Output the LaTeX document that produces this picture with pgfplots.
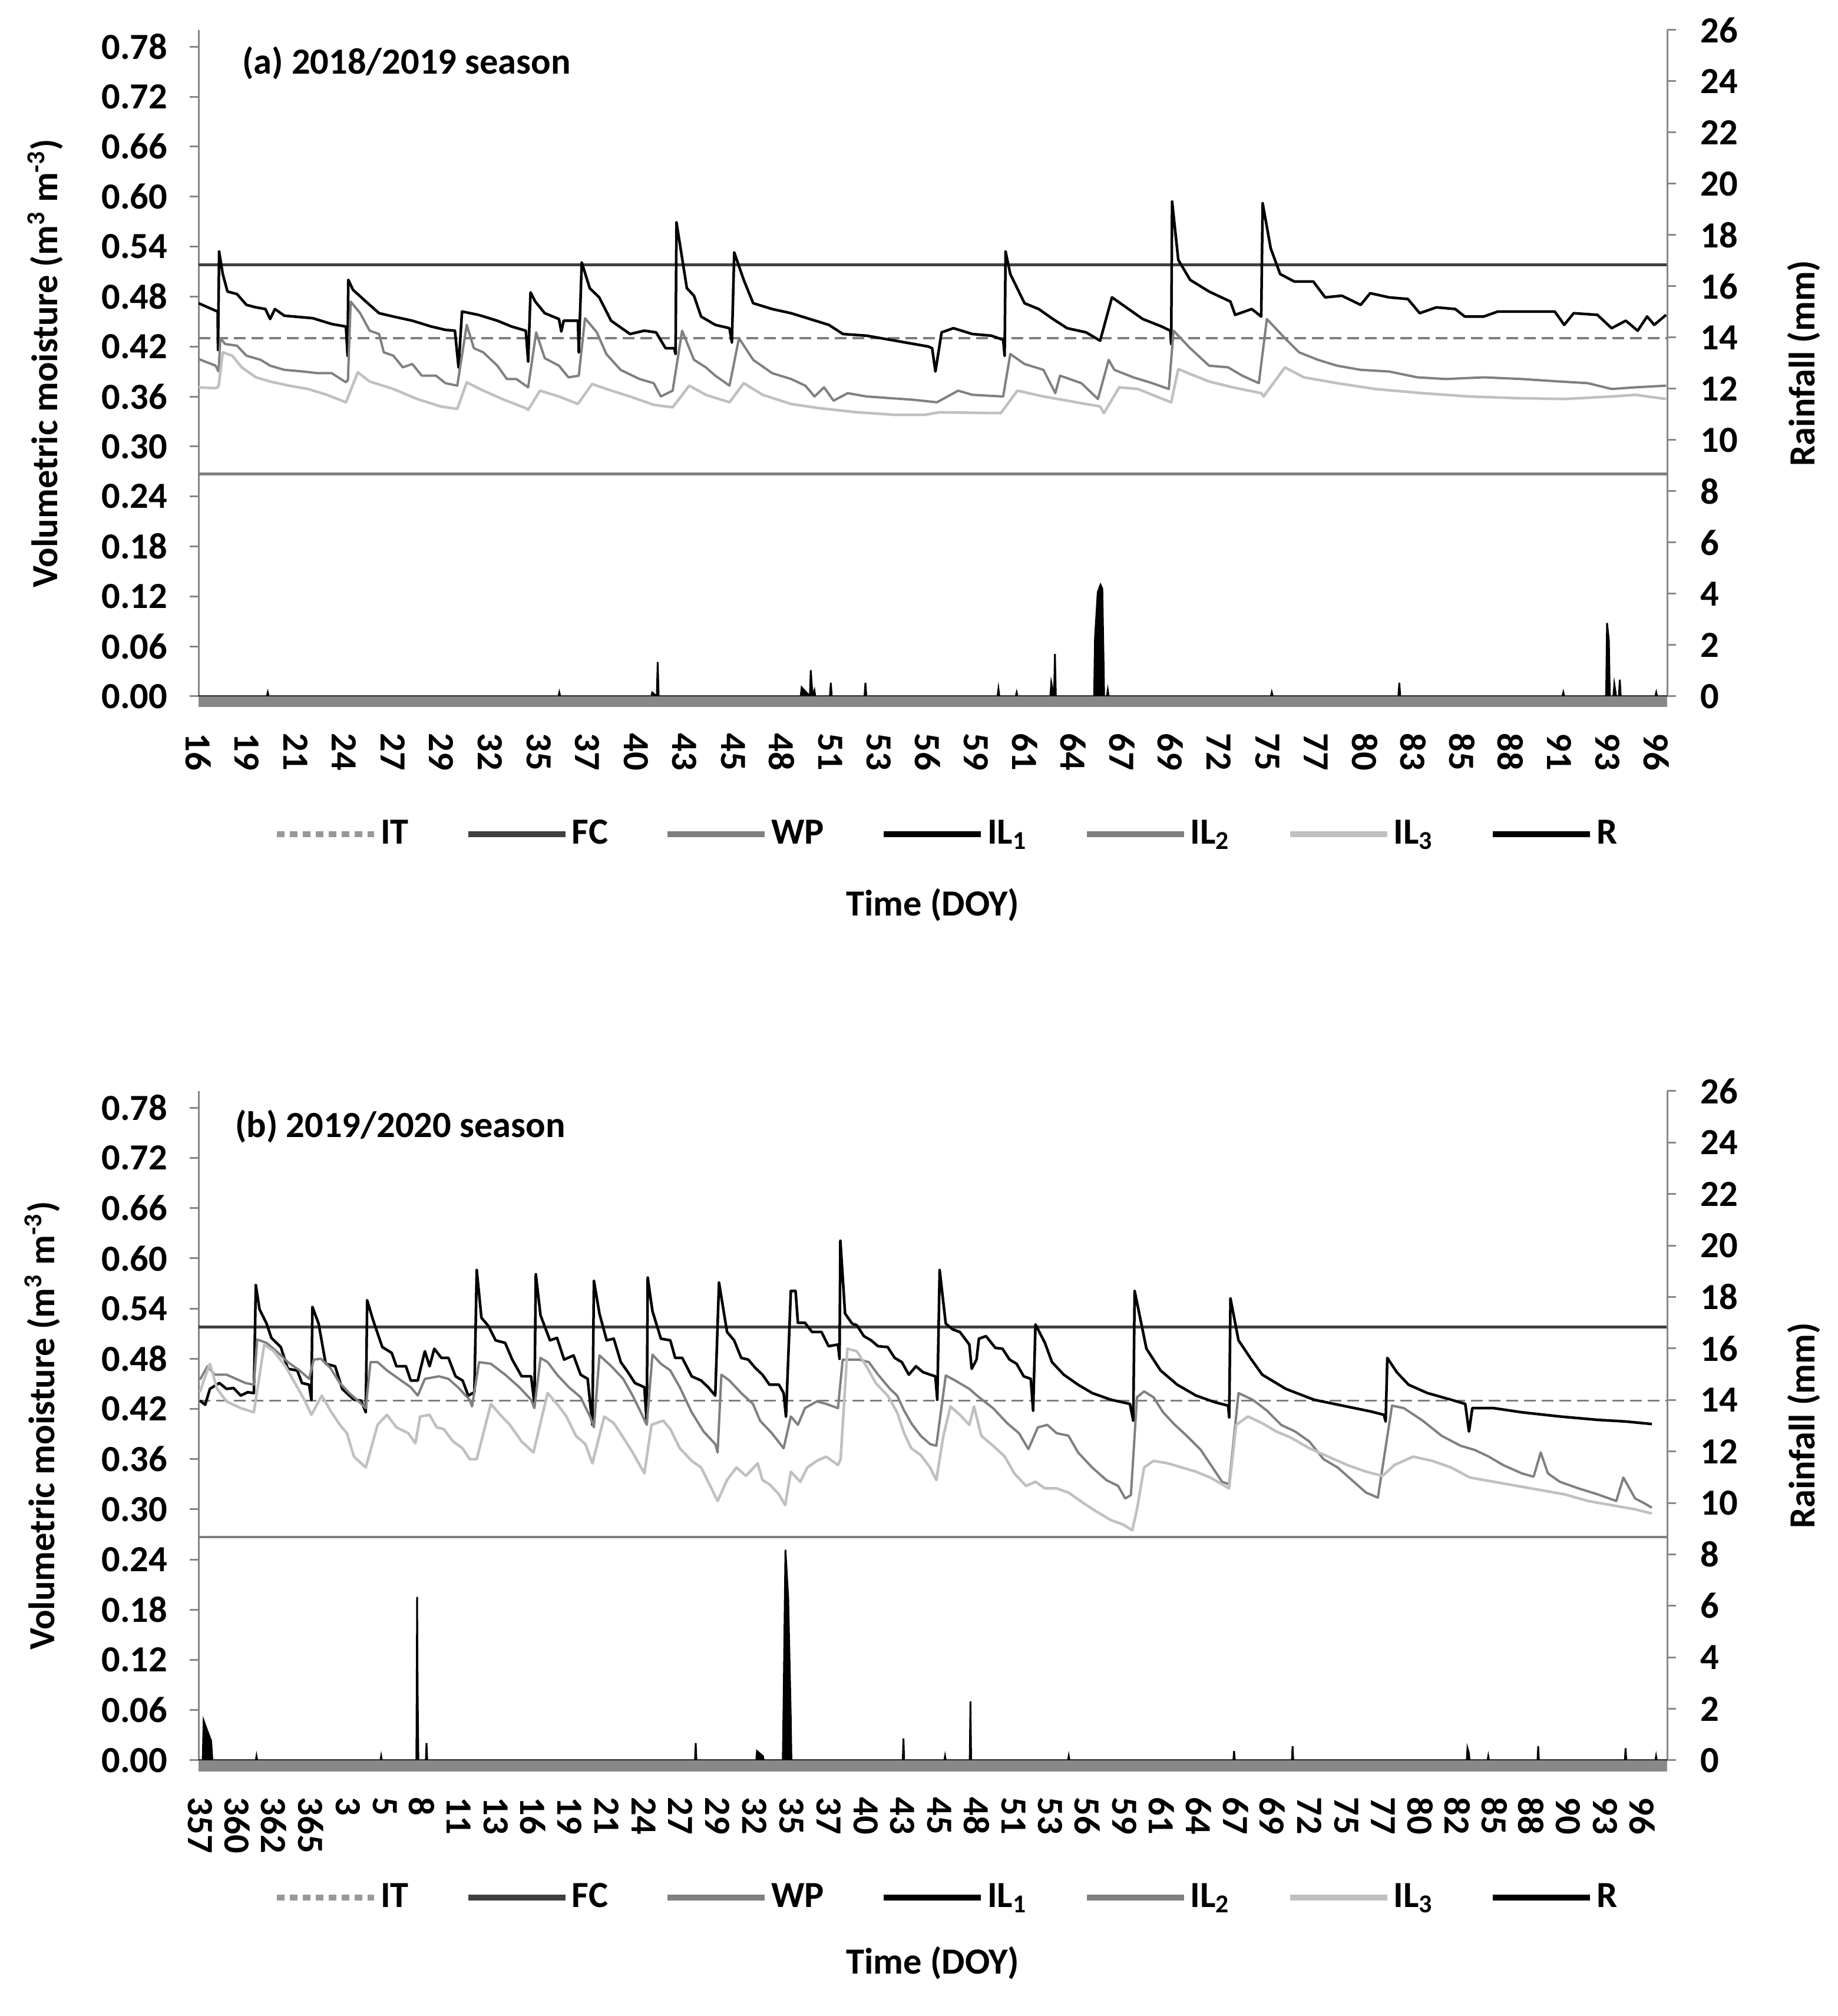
\documentclass[border=0pt]{standalone}
\usepackage{fontspec}
\setmainfont{Carlito}
\usepackage{pgfplots}
\usepackage{pgfplotstable}
\pgfplotsset{compat=1.18}

\definecolor{axgray}{HTML}{868686}
\definecolor{fcgray}{HTML}{404040}
\definecolor{wpgray}{HTML}{808080}
\definecolor{itgray}{HTML}{7F7F7F}
\definecolor{colILtwo}{HTML}{808080}
\definecolor{colILthree}{HTML}{C0C0C0}
\definecolor{bandgray}{HTML}{888888}
\newcommand{\fs}{\bfseries\fontsize{12.5}{15}\selectfont}

\pgfplotsset{
  moist/.style={
    scale only axis, width=498.6pt,
    ymin=0, ymax=0.8,
    axis lines*=left, axis line style={-},
    x axis line style={draw=none},
    y axis line style={axgray, line width=0.6pt},
    ytick={0,0.06,0.12,0.18,0.24,0.30,0.36,0.42,0.48,0.54,0.60,0.66,0.72,0.78},
    ytick style={axgray, line width=0.6pt},
    xtick style={draw=none},
    tick align=outside, major tick length=3pt,
    tick label style={font=\fs},
    /pgf/number format/assume math mode=true,
    yticklabel style={/pgf/number format/fixed, /pgf/number format/fixed zerofill,
      /pgf/number format/precision=2, xshift=-4pt},
    xticklabel style={yshift=-6pt, rotate=-90, anchor=west},
    legend image code/.code={\draw[#1] (0pt,0pt) -- (33pt,0pt);},
    legend style={draw=none, fill=none, legend columns=7, font=\fs, anchor=center,
      /tikz/every even column/.append style={column sep=18pt}, nodes={inner sep=1.2pt}},
  },
  rain/.style={
    scale only axis, width=498.6pt,
    ymin=0, ymax=26,
    axis y line*=right, axis line style={-},
    y axis line style={axgray, line width=0.6pt},
    hide x axis,
    ytick={0,2,...,26},
    ytick style={axgray, line width=0.6pt},
    tick align=outside, major tick length=3pt,
    tick label style={font=\fs},
    /pgf/number format/assume math mode=true,
    yticklabel style={xshift=4.8pt},
  },
  lineone/.style={black, line width=0.9pt, line join=round},
  linetwo/.style={colILtwo, line width=0.8pt, line join=round},
  linethree/.style={colILthree, line width=0.9pt, line join=round},
}

% ---------------- (a) 2018/2019 season, x = DOY ----------------
\pgfplotstableread{
x y
16.00 0.472
16.94 0.463
17.05 0.462
17.07 0.416
17.13 0.534
17.33 0.507
17.59 0.486
18.11 0.483
18.63 0.470
19.15 0.467
19.67 0.465
19.93 0.453
20.19 0.465
20.71 0.457
22.27 0.454
23.31 0.447
24.09 0.444
24.18 0.409
24.22 0.500
24.48 0.488
25.39 0.470
25.91 0.460
26.69 0.456
27.73 0.451
28.77 0.444
29.55 0.440
30.07 0.439
30.27 0.395
30.46 0.462
31.36 0.458
32.40 0.451
33.18 0.444
33.96 0.439
34.09 0.402
34.22 0.485
34.48 0.474
35.00 0.460
35.78 0.453
35.91 0.438
36.04 0.451
36.82 0.451
36.87 0.413
37.03 0.521
37.47 0.490
37.99 0.479
38.64 0.451
39.68 0.435
40.46 0.439
41.11 0.437
41.63 0.418
42.10 0.418
42.18 0.411
42.23 0.569
42.80 0.490
43.19 0.481
43.58 0.456
44.36 0.446
45.14 0.442
45.27 0.425
45.40 0.533
45.92 0.500
46.44 0.472
47.48 0.465
48.52 0.460
49.55 0.453
50.59 0.446
51.37 0.435
52.67 0.433
53.97 0.428
55.01 0.424
56.05 0.420
56.26 0.418
56.44 0.390
56.78 0.437
57.43 0.442
58.47 0.435
59.51 0.433
60.16 0.428
60.24 0.409
60.29 0.534
60.55 0.507
61.33 0.472
62.11 0.465
62.89 0.453
63.67 0.442
64.71 0.437
65.48 0.427
66.13 0.479
67.04 0.465
67.82 0.453
68.86 0.444
69.33 0.439
69.38 0.423
69.43 0.594
69.77 0.524
70.42 0.500
71.46 0.486
72.63 0.474
72.89 0.458
73.80 0.465
74.32 0.456
74.40 0.592
74.84 0.538
75.36 0.507
76.14 0.498
77.18 0.498
77.83 0.479
78.74 0.481
79.78 0.470
80.30 0.484
81.34 0.479
82.37 0.477
83.02 0.460
83.93 0.467
84.97 0.465
85.49 0.456
86.53 0.456
87.31 0.462
88.61 0.462
90.43 0.462
90.95 0.446
91.47 0.460
92.77 0.458
93.55 0.442
94.33 0.451
94.98 0.439
95.50 0.456
95.89 0.446
96.54 0.458
}\aILone

\pgfplotstableread{
x y
16.00 0.405
16.94 0.397
17.10 0.390
17.20 0.430
17.46 0.423
18.11 0.421
18.63 0.409
19.41 0.404
19.93 0.397
20.71 0.392
21.75 0.390
22.53 0.388
23.31 0.388
24.09 0.377
24.20 0.380
24.35 0.474
24.87 0.460
25.39 0.439
25.91 0.435
26.17 0.413
26.69 0.409
27.21 0.395
27.73 0.399
28.25 0.385
29.03 0.385
29.55 0.376
30.20 0.373
30.72 0.446
31.11 0.418
31.63 0.413
32.40 0.397
32.92 0.381
33.44 0.381
34.09 0.371
34.53 0.437
35.00 0.406
35.78 0.397
36.30 0.383
36.87 0.385
37.21 0.454
37.86 0.437
38.38 0.411
39.16 0.392
40.20 0.381
40.98 0.376
41.37 0.360
42.02 0.367
42.54 0.439
43.19 0.404
43.84 0.395
44.36 0.385
45.14 0.373
45.66 0.430
46.44 0.404
47.48 0.388
48.52 0.381
49.30 0.373
49.81 0.360
50.33 0.371
50.85 0.355
51.63 0.364
52.67 0.360
53.97 0.358
55.27 0.356
56.52 0.353
57.69 0.367
58.47 0.362
60.16 0.360
60.55 0.411
61.33 0.399
62.37 0.392
63.02 0.364
63.28 0.385
64.45 0.376
65.36 0.357
65.95 0.404
66.26 0.392
67.30 0.383
68.34 0.376
69.25 0.369
69.51 0.439
70.42 0.418
71.46 0.397
72.50 0.395
73.28 0.385
74.19 0.376
74.63 0.453
75.62 0.430
76.40 0.413
77.44 0.404
78.48 0.397
79.78 0.392
81.34 0.390
82.89 0.383
84.45 0.381
86.53 0.383
88.61 0.381
90.69 0.378
92.25 0.376
93.55 0.369
94.85 0.371
96.54 0.373
}\aILtwo

\pgfplotstableread{
x y
16.00 0.371
16.94 0.370
17.10 0.372
17.33 0.413
17.85 0.409
18.37 0.395
19.15 0.383
19.93 0.378
20.97 0.373
22.01 0.369
23.05 0.362
24.09 0.353
24.74 0.389
25.39 0.378
26.69 0.369
28.00 0.357
29.29 0.348
30.20 0.345
30.72 0.377
31.63 0.367
32.66 0.357
33.96 0.346
34.09 0.344
34.74 0.367
35.78 0.360
36.82 0.351
37.60 0.375
38.38 0.369
39.68 0.360
40.98 0.350
42.02 0.347
42.93 0.373
43.84 0.362
45.14 0.353
45.92 0.376
46.96 0.362
48.52 0.351
50.07 0.346
52.15 0.341
54.23 0.338
55.87 0.338
56.65 0.341
60.03 0.340
60.94 0.367
62.37 0.360
63.67 0.355
65.48 0.348
65.69 0.340
66.53 0.371
67.56 0.369
68.34 0.362
69.38 0.353
69.77 0.393
70.42 0.387
71.46 0.378
72.76 0.371
74.32 0.364
74.45 0.360
75.62 0.395
76.66 0.383
78.48 0.376
80.56 0.369
83.15 0.364
85.75 0.360
88.35 0.358
90.95 0.357
93.55 0.360
94.85 0.362
96.54 0.357
}\aILthree

\pgfplotstableread{
x y
16.00 0
19.75 0
19.80 0.15
19.85 0
35.75 0
35.80 0.15
35.85 0
40.85 0
40.90 0.15
41.15 0
41.20 1.34
41.25 0
49.05 0
49.10 0.35
49.55 0
49.60 1.02
49.70 0
49.80 0.23
49.85 0
50.65 0
50.70 0.53
50.75 0
52.55 0
52.60 0.53
52.65 0
59.85 0
59.90 0.29
59.95 0
60.85 0
60.90 0.15
60.95 0
62.75 0
62.80 0.53
62.95 0
63.00 1.65
63.05 0
65.15 0
65.20 2.30
65.35 4.06
65.50 4.35
65.60 4.20
65.70 0
65.85 0
65.90 0.24
65.95 0
74.85 0
74.90 0.15
74.95 0
81.85 0
81.90 0.53
81.95 0
90.85 0
90.90 0.15
90.95 0
93.25 0
93.30 2.86
93.40 2.18
93.45 0
93.65 0
93.70 0.47
93.80 0
93.95 0
94.00 0.65
94.05 0
95.95 0
96.00 0.15
96.05 0
96.60 0
}\aR

% ---------------- (b) 2019/2020 season, x = days after DOY 357 ----------------
\pgfplotstableread{
x y
0.00 0.430
0.38 0.425
0.72 0.444
1.40 0.451
1.92 0.444
2.43 0.445
2.94 0.436
3.45 0.440
3.89 0.439
4.03 0.568
4.30 0.539
4.81 0.522
5.15 0.505
5.83 0.494
6.34 0.468
7.02 0.466
7.36 0.451
7.87 0.449
8.04 0.431
8.11 0.542
8.56 0.522
9.07 0.474
9.75 0.471
10.26 0.444
11.11 0.431
11.62 0.430
11.96 0.416
12.06 0.550
12.47 0.527
13.15 0.494
13.83 0.487
14.17 0.471
14.86 0.471
15.20 0.454
15.71 0.454
15.88 0.466
16.22 0.489
16.56 0.471
16.90 0.492
17.41 0.481
17.92 0.481
18.43 0.459
18.94 0.454
19.35 0.436
19.79 0.440
19.96 0.586
20.30 0.529
20.81 0.519
21.32 0.502
22.01 0.499
22.52 0.479
23.20 0.459
23.88 0.459
24.12 0.426
24.22 0.581
24.56 0.532
25.24 0.502
25.75 0.505
26.26 0.479
26.94 0.484
27.45 0.461
27.96 0.456
28.30 0.401
28.41 0.573
28.81 0.534
29.33 0.502
29.84 0.504
30.35 0.476
30.86 0.464
31.37 0.451
32.05 0.446
32.22 0.403
32.29 0.577
32.63 0.537
33.24 0.504
33.92 0.502
34.27 0.481
34.78 0.481
35.46 0.459
36.14 0.454
36.65 0.446
37.16 0.436
37.43 0.571
38.01 0.512
38.52 0.502
39.03 0.481
39.54 0.479
40.05 0.469
40.56 0.461
41.07 0.449
41.75 0.449
42.09 0.439
42.26 0.411
42.61 0.561
42.95 0.561
43.12 0.523
43.63 0.523
44.14 0.512
44.82 0.512
45.33 0.495
46.01 0.497
46.12 0.480
46.18 0.621
46.52 0.534
47.03 0.522
47.37 0.520
47.88 0.507
48.40 0.502
48.90 0.495
49.59 0.494
50.10 0.481
50.61 0.476
51.12 0.461
51.63 0.471
52.14 0.464
52.65 0.461
53.03 0.459
53.17 0.431
53.34 0.586
53.78 0.522
54.29 0.515
54.80 0.512
55.48 0.497
55.65 0.468
56.00 0.479
56.17 0.504
56.68 0.507
57.36 0.493
57.87 0.492
58.38 0.479
58.89 0.474
59.40 0.459
59.91 0.456
60.08 0.418
60.25 0.521
60.93 0.499
61.44 0.476
62.29 0.461
63.32 0.449
64.34 0.439
65.70 0.431
67.06 0.426
67.30 0.406
67.40 0.561
68.25 0.492
69.27 0.466
70.47 0.449
71.83 0.436
73.19 0.428
74.14 0.424
74.22 0.410
74.31 0.552
74.89 0.502
75.74 0.481
76.60 0.461
78.30 0.444
80.34 0.431
82.38 0.424
84.43 0.417
85.38 0.413
85.50 0.405
85.62 0.481
86.30 0.464
87.15 0.449
88.51 0.439
90.22 0.431
91.24 0.426
91.51 0.393
91.75 0.421
93.28 0.421
95.32 0.416
98.05 0.411
100.77 0.407
102.81 0.405
104.69 0.402
}\bILone

\pgfplotstableread{
x y
0.00 0.455
0.55 0.471
1.06 0.461
1.92 0.461
2.60 0.456
3.28 0.451
3.89 0.449
4.13 0.503
4.81 0.499
5.66 0.487
6.34 0.476
7.19 0.466
7.87 0.456
8.21 0.479
8.73 0.480
9.41 0.469
10.09 0.451
10.77 0.439
11.45 0.429
11.96 0.421
12.30 0.476
12.81 0.476
13.49 0.466
14.51 0.454
15.20 0.446
15.71 0.436
16.22 0.456
17.24 0.459
17.92 0.456
18.60 0.446
19.45 0.431
19.62 0.423
20.13 0.476
20.98 0.474
22.01 0.461
23.03 0.446
23.88 0.431
24.12 0.421
24.56 0.481
25.07 0.476
25.75 0.461
26.60 0.446
27.45 0.434
28.13 0.411
28.41 0.398
28.81 0.484
29.67 0.471
30.52 0.456
31.20 0.436
31.88 0.413
32.22 0.401
32.63 0.485
33.24 0.474
33.92 0.466
34.60 0.446
35.46 0.416
36.32 0.393
37.16 0.378
37.33 0.368
37.60 0.461
38.18 0.454
39.03 0.439
39.88 0.426
40.39 0.406
41.24 0.391
42.09 0.373
42.61 0.411
43.12 0.401
43.63 0.421
44.48 0.429
45.16 0.426
46.01 0.421
46.35 0.479
47.54 0.479
48.23 0.476
48.90 0.461
49.76 0.444
50.27 0.436
50.78 0.418
51.29 0.403
51.97 0.388
52.65 0.378
53.10 0.376
53.78 0.460
54.46 0.454
55.48 0.444
56.17 0.434
57.19 0.421
58.21 0.403
59.06 0.391
59.74 0.372
60.42 0.398
61.10 0.401
61.78 0.391
62.63 0.388
63.32 0.368
64.34 0.350
65.36 0.335
66.21 0.328
66.72 0.313
67.13 0.317
67.57 0.434
68.08 0.441
68.76 0.434
69.45 0.416
70.30 0.401
71.15 0.388
72.17 0.371
73.02 0.350
73.70 0.333
74.21 0.330
74.89 0.439
75.91 0.431
76.94 0.418
77.96 0.401
78.98 0.393
80.00 0.381
81.02 0.360
82.04 0.350
83.06 0.335
84.09 0.320
84.94 0.314
85.96 0.424
86.81 0.421
88.17 0.406
89.53 0.388
90.90 0.376
91.92 0.371
92.94 0.363
93.96 0.353
95.32 0.343
96.17 0.339
96.68 0.368
97.20 0.343
98.05 0.333
99.41 0.325
100.77 0.318
102.13 0.310
102.64 0.338
103.49 0.313
104.18 0.307
104.69 0.302
}\bILtwo

\pgfplotstableread{
x y
0.00 0.440
0.30 0.455
0.72 0.474
1.24 0.444
1.92 0.429
2.94 0.421
3.89 0.416
4.64 0.497
5.32 0.489
6.17 0.471
7.02 0.446
7.53 0.431
8.04 0.413
8.79 0.436
9.41 0.418
10.09 0.401
10.60 0.391
11.11 0.363
11.96 0.350
12.81 0.401
13.49 0.413
14.17 0.398
15.03 0.391
15.54 0.379
15.88 0.411
16.56 0.413
17.07 0.398
17.58 0.396
18.26 0.381
18.94 0.373
19.45 0.360
19.96 0.360
20.98 0.426
21.66 0.413
22.35 0.401
23.20 0.381
24.05 0.368
25.07 0.439
25.75 0.426
26.43 0.411
27.11 0.388
27.79 0.378
28.30 0.355
29.16 0.411
29.84 0.403
30.52 0.386
31.20 0.368
32.05 0.343
32.56 0.401
33.41 0.406
33.92 0.396
34.60 0.373
35.46 0.358
36.14 0.350
36.65 0.333
37.33 0.310
38.01 0.335
38.69 0.350
39.37 0.340
40.22 0.355
40.56 0.335
41.07 0.330
41.75 0.318
42.20 0.305
42.61 0.345
43.29 0.333
43.80 0.350
44.48 0.358
45.16 0.363
46.01 0.353
46.20 0.360
46.69 0.492
47.37 0.489
48.06 0.471
48.73 0.451
49.59 0.436
50.27 0.416
50.78 0.391
51.29 0.373
51.97 0.365
52.65 0.350
53.10 0.335
53.61 0.388
54.12 0.423
54.80 0.413
55.48 0.401
55.82 0.423
56.34 0.388
57.19 0.376
58.04 0.363
58.72 0.343
59.57 0.328
60.25 0.333
60.93 0.325
61.78 0.325
62.63 0.320
63.66 0.308
64.68 0.297
65.70 0.287
66.55 0.282
67.23 0.275
67.57 0.300
68.08 0.350
68.76 0.358
69.79 0.355
70.81 0.350
71.83 0.345
72.85 0.338
73.70 0.330
74.21 0.325
74.72 0.401
75.57 0.411
76.60 0.403
77.62 0.393
78.64 0.386
80.00 0.373
81.36 0.363
82.73 0.353
84.09 0.345
85.28 0.340
86.13 0.353
87.49 0.363
88.85 0.358
90.22 0.350
91.58 0.338
93.28 0.333
94.98 0.328
96.68 0.323
98.39 0.318
100.09 0.310
101.79 0.305
103.49 0.300
104.69 0.295
}\bILthree

\pgfplotstableread{
x y
-0.10 0
0.20 0
0.27 1.54
0.40 1.34
0.81 0.75
0.90 0
4.03 0
4.08 0.16
4.13 0
13.02 0
13.07 0.16
13.12 0
15.61 0
15.66 6.35
15.70 2.57
15.75 0
16.29 0
16.34 0.67
16.39 0
35.70 0
35.75 0.67
35.80 0
40.12 0
40.17 0.36
40.60 0.16
40.65 0
42.03 0
42.08 1.94
42.22 8.18
42.42 6.28
42.60 1.78
42.65 0
50.68 0
50.73 0.85
50.78 0
53.68 0
53.73 0.16
53.78 0
55.51 0
55.56 2.29
55.61 0
62.60 0
62.65 0.16
62.70 0
74.52 0
74.57 0.36
74.62 0
78.74 0
78.79 0.55
78.84 0
91.35 0
91.40 0.47
91.50 0.28
91.55 0
92.85 0
92.90 0.16
92.95 0
96.45 0
96.50 0.55
96.55 0
102.75 0
102.80 0.47
102.85 0
104.95 0
105.00 0.16
105.05 0
105.80 0
}\bR

\begin{document}
\begin{tikzpicture}[font=\fs]
\useasboundingbox (0,0) rectangle (623.8pt,684.4pt);

% ===================== panel (a) =====================
\begin{axis}[moist, name=A, at={(67.4pt,448pt)}, anchor=south west, height=226.2pt,
  xmin=16, xmax=96.6,
  xtick={16,18.6667,21.3333,24,26.6667,29.3333,32,34.6667,37.3333,40,42.6667,45.3333,48,50.6667,53.3333,56,58.6667,61.3333,64,66.6667,69.3333,72,74.6667,77.3333,80,82.6667,85.3333,88,90.6667,93.3333,96},
  xticklabels={16,19,21,24,27,29,32,35,37,40,43,45,48,51,53,56,59,61,64,67,69,72,75,77,80,83,85,88,91,93,96},
  legend style={at={(0.51,-0.207)}}]
\addplot[itgray, line width=0.75pt, dash pattern=on 4pt off 2pt, forget plot] coordinates {(16,0.430) (96.6,0.430)};
\addplot[fcgray, line width=1pt, forget plot] coordinates {(16,0.518) (96.6,0.518)};
\addplot[wpgray, line width=0.9pt, forget plot] coordinates {(16,0.267) (96.6,0.267)};
\addplot[lineone, forget plot] table {\aILone};
\addplot[linetwo, forget plot] table {\aILtwo};
\addplot[linethree, forget plot] table {\aILthree};
\addlegendimage{itgray!80, line width=2pt, dash pattern=on 2.6pt off 1.8pt}
\addlegendentry{IT}
\addlegendimage{fcgray, line width=2pt}
\addlegendentry{FC}
\addlegendimage{wpgray, line width=2pt}
\addlegendentry{WP}
\addlegendimage{black, line width=2pt}
\addlegendentry{IL\textsubscript{1}}
\addlegendimage{colILtwo, line width=2pt}
\addlegendentry{IL\textsubscript{2}}
\addlegendimage{colILthree, line width=2pt}
\addlegendentry{IL\textsubscript{3}}
\addlegendimage{black, line width=2pt}
\addlegendentry{R}
\end{axis}
\begin{axis}[rain, at={(67.4pt,448pt)}, anchor=south west, height=226.2pt,
  xmin=16, xmax=96.6]
\addplot[black, line width=0.6pt, fill=black] table {\aR};
\end{axis}
\fill[bandgray] (A.south west) rectangle ([yshift=-3.6pt]A.south east);
\node[anchor=west, inner sep=0pt] at ([xshift=14.6pt,yshift=-11.2pt]A.north west) {(a) 2018/2019 season};
\node[rotate=90] at ([xshift=-52pt]A.west) {Volumetric moisture (m\textsuperscript{3} m\textsuperscript{-3})};
\node[rotate=90] at ([xshift=46.4pt]A.east) {Rainfall (mm)};
\node at ([yshift=-70.8pt]A.south) {Time (DOY)};

% ===================== panel (b) =====================
\begin{axis}[moist, name=B, at={(67.4pt,86.8pt)}, anchor=south west, height=227.2pt,
  xmin=-0.1, xmax=105.8,
  xtick={0,2.6667,5.3333,8,10.6667,13.3333,16,18.6667,21.3333,24,26.6667,29.3333,32,34.6667,37.3333,40,42.6667,45.3333,48,50.6667,53.3333,56,58.6667,61.3333,64,66.6667,69.3333,72,74.6667,77.3333,80,82.6667,85.3333,88,90.6667,93.3333,96,98.6667,101.3333,104},
  xticklabels={357,360,362,365,3,5,8,11,13,16,19,21,24,27,29,32,35,37,40,43,45,48,51,53,56,59,61,64,67,69,72,75,77,80,82,85,88,90,93,96},
  legend style={at={(0.51,-0.205)}}]
\addplot[itgray, line width=0.75pt, dash pattern=on 4pt off 2pt, forget plot] coordinates {(-0.1,0.430) (105.8,0.430)};
\addplot[fcgray, line width=1pt, forget plot] coordinates {(-0.1,0.518) (105.8,0.518)};
\addplot[wpgray, line width=0.9pt, forget plot] coordinates {(-0.1,0.267) (105.8,0.267)};
\addplot[lineone, forget plot] table {\bILone};
\addplot[linetwo, forget plot] table {\bILtwo};
\addplot[linethree, forget plot] table {\bILthree};
\addlegendimage{itgray!80, line width=2pt, dash pattern=on 2.6pt off 1.8pt}
\addlegendentry{IT}
\addlegendimage{fcgray, line width=2pt}
\addlegendentry{FC}
\addlegendimage{wpgray, line width=2pt}
\addlegendentry{WP}
\addlegendimage{black, line width=2pt}
\addlegendentry{IL\textsubscript{1}}
\addlegendimage{colILtwo, line width=2pt}
\addlegendentry{IL\textsubscript{2}}
\addlegendimage{colILthree, line width=2pt}
\addlegendentry{IL\textsubscript{3}}
\addlegendimage{black, line width=2pt}
\addlegendentry{R}
\end{axis}
\begin{axis}[rain, at={(67.4pt,86.8pt)}, anchor=south west, height=227.2pt,
  xmin=-0.1, xmax=105.8]
\addplot[black, line width=0.6pt, fill=black] table {\bR};
\end{axis}
\fill[bandgray] (B.south west) rectangle ([yshift=-3.8pt]B.south east);
\node[anchor=west, inner sep=0pt] at ([xshift=12.2pt,yshift=-12pt]B.north west) {(b) 2019/2020 season};
\node[rotate=90] at ([xshift=-53pt]B.west) {Volumetric moisture (m\textsuperscript{3} m\textsuperscript{-3})};
\node[rotate=90] at ([xshift=46.4pt]B.east) {Rainfall (mm)};
\node at ([yshift=-68.8pt]B.south) {Time (DOY)};
\end{tikzpicture}
\end{document}
